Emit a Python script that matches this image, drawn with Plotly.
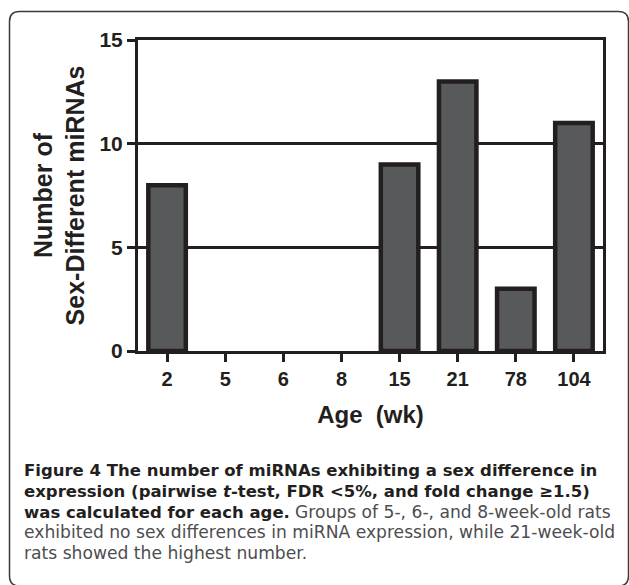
import plotly.graph_objects as go

# Age groups (weeks) and count of miRNAs with a sex difference at each age
ages = ["2", "5", "6", "8", "15", "21", "78", "104"]
counts = [8, 0, 0, 0, 9, 13, 3, 11]
y_ticks = [0, 5, 10, 15]

W, H = 629, 585
L, R, T, B = 138, 26, 40, 234
PW, PH = W - L - R, H - T - B

INK = "#231f20"
BAR_FILL = "#58595b"
FONT = "Liberation Sans, Arial, sans-serif"
CAP_FONT = "DejaVu Sans, sans-serif"


def px(x):
    return (x - L) / PW


def py(y):
    return (H - B - y) / PH


fig = go.Figure(
    go.Bar(
        x=ages,
        y=counts,
        width=0.645,
        marker=dict(
            color=BAR_FILL,
            line=dict(color=INK, width=[4.5 if c > 0 else 0 for c in counts]),
        ),
        hoverinfo="x+y",
    )
)

fig.update_layout(
    width=W,
    height=H,
    margin=dict(l=L, r=R, t=T, b=B),
    paper_bgcolor="white",
    plot_bgcolor="white",
    showlegend=False,
    font=dict(family=FONT, color=INK),
    xaxis=dict(
        type="category",
        range=[-0.5, 7.5],
        showline=True,
        linecolor=INK,
        linewidth=3,
        mirror=True,
        ticks="outside",
        ticklen=8,
        tickwidth=3,
        tickcolor=INK,
        showgrid=False,
        tickfont=dict(family=FONT, size=20, weight="bold", color=INK),
        title=dict(
            text="Age  (wk)",
            font=dict(family=FONT, size=24, weight="bold", color=INK),
            standoff=18,
        ),
    ),
    yaxis=dict(
        range=[0, 15],
        tickvals=y_ticks,
        showline=True,
        linecolor=INK,
        linewidth=3,
        mirror=True,
        ticks="outside",
        ticklen=8,
        tickwidth=3,
        tickcolor=INK,
        showgrid=True,
        gridcolor=INK,
        gridwidth=3,
        zeroline=False,
        tickfont=dict(family=FONT, size=21, weight="bold", color=INK),
        title=dict(
            text="Number of<br>Sex-Different miRNAs",
            font=dict(family=FONT, size=25, weight="bold", color=INK),
            standoff=8,
        ),
    ),
)

# Rounded frame around the figure panel and caption
x0, y0, x1, y1, r = 9.5, 11.5, 628.5, 586, 10
frame = (
    f"M {px(x0 + r)},{py(y0)} L {px(x1 - r)},{py(y0)} "
    f"Q {px(x1)},{py(y0)} {px(x1)},{py(y0 + r)} "
    f"L {px(x1)},{py(y1 - r)} Q {px(x1)},{py(y1)} {px(x1 - r)},{py(y1)} "
    f"L {px(x0 + r)},{py(y1)} Q {px(x0)},{py(y1)} {px(x0)},{py(y1 - r)} "
    f"L {px(x0)},{py(y0 + r)} Q {px(x0)},{py(y0)} {px(x0 + r)},{py(y0)} Z"
)
fig.add_shape(type="path", path=frame, xref="paper", yref="paper",
              line=dict(color="#3a3a3a", width=1.5), layer="above")

# Caption: bold lead-in followed by regular gray text, tight leading
BOLD_C = "#231f20"
REG_C = "#4d4d4f"


def bold(s):
    return f"<span style='font-size:16.5px;color:{BOLD_C}'><b>{s}</b></span>"


def reg(s):
    return f"<span style='font-size:17.15px;color:{REG_C}'>{s}</span>"


caption_lines = [
    bold("Figure 4 The number of miRNAs exhibiting a sex difference in"),
    bold("expression (pairwise <i>t</i>-test, FDR &lt;5%, and fold change ≥1.5)"),
    bold("was calculated for each age.") + " " + reg("Groups of 5-, 6-, and 8-week-old rats"),
    reg("exhibited no sex differences in miRNA expression, while 21-week-old"),
    reg("rats showed the highest number."),
]
fig.add_annotation(
    text="<br>".join(caption_lines), xref="paper", yref="paper",
    x=px(22), y=py(511.5), xanchor="left", yanchor="middle", align="left",
    showarrow=False, font=dict(family=CAP_FONT, size=16, color=BOLD_C),
)

fig.write_html("out.html")
